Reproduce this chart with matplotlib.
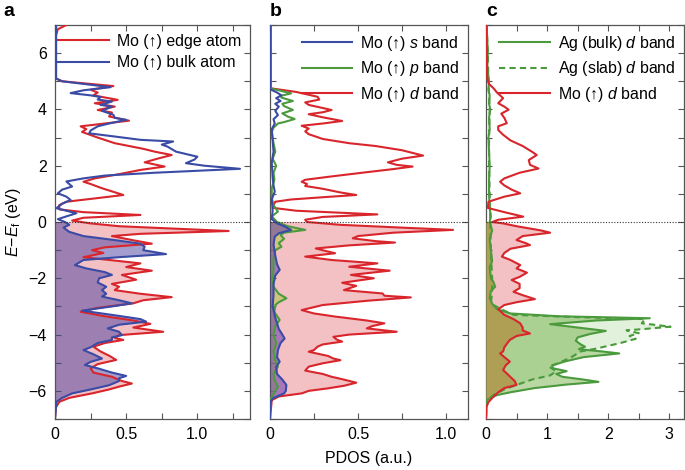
import matplotlib

matplotlib.use("Agg")
import matplotlib.pyplot as plt
import numpy as np
from matplotlib.lines import Line2D
from matplotlib.patches import Rectangle
from matplotlib.ticker import MultipleLocator

plt.rcParams["font.family"] = ["Liberation Sans", "DejaVu Sans"]
plt.rcParams["mathtext.fontset"] = "custom"
plt.rcParams["mathtext.rm"] = "Liberation Sans"
plt.rcParams["mathtext.it"] = "Liberation Sans:italic"
plt.rcParams["mathtext.bf"] = "Liberation Sans:bold"

# ---- data: (E - Ef in eV, PDOS in a.u.) ----
# panel a
mo_edge = [(7.0, 0.08), (6.85, 0.02), (6.6, 0.005), (5.1, 0.005), (5.0, 0.05), (4.83, 0.41),
           (4.7, 0.25), (4.6, 0.3), (4.5, 0.27), (4.34, 0.44), (4.22, 0.28), (4.1, 0.42),
           (3.98, 0.3), (3.89, 0.4), (3.75, 0.38), (3.6, 0.52), (3.5, 0.35), (3.4, 0.18),
           (3.3, 0.22), (3.2, 0.19), (3.0, 0.3), (2.8, 0.42), (2.6, 0.62), (2.5, 0.7),
           (2.38, 0.82), (2.25, 0.72), (2.12, 0.63), (1.97, 0.77), (1.85, 0.6), (1.7, 0.45),
           (1.55, 0.28), (1.43, 0.2), (1.35, 0.25), (1.2, 0.33), (0.96, 0.48), (0.85, 0.3),
           (0.72, 0.08), (0.6, 0.03), (0.45, 0.03), (0.35, 0.2), (0.25, 0.6), (0.15, 0.2),
           (0.05, 0.12), (-0.05, 0.25), (-0.15, 0.45), (-0.32, 1.22), (-0.42, 0.6), (-0.5, 0.4),
           (-0.65, 0.55), (-0.77, 0.68), (-0.9, 0.35), (-1.0, 0.26), (-1.1, 0.34), (-1.25, 0.2),
           (-1.47, 0.6), (-1.6, 0.5), (-1.73, 0.68), (-1.88, 0.47), (-2.05, 0.57), (-2.2, 0.4),
           (-2.3, 0.45), (-2.42, 0.42), (-2.55, 0.6), (-2.67, 0.82), (-2.78, 0.62), (-2.89, 0.55),
           (-3.05, 0.3), (-3.19, 0.18), (-3.35, 0.35), (-3.5, 0.55), (-3.62, 0.67), (-3.75, 0.55),
           (-3.9, 0.76), (-4.02, 0.45), (-4.12, 0.42), (-4.19, 0.48), (-4.3, 0.35), (-4.43, 0.27),
           (-4.6, 0.32), (-4.75, 0.38), (-4.9, 0.43), (-5.05, 0.3), (-5.2, 0.25), (-5.35, 0.27),
           (-5.5, 0.4), (-5.65, 0.47), (-5.74, 0.54), (-5.85, 0.45), (-5.95, 0.38), (-6.09, 0.26),
           (-6.25, 0.1), (-6.39, 0.03), (-6.6, 0.005), (-7.0, 0.0)]
mo_bulk = [(7.0, 0.008), (5.1, 0.008), (5.0, 0.05), (4.79, 0.39), (4.68, 0.2), (4.58, 0.11),
           (4.5, 0.25), (4.44, 0.32), (4.35, 0.3), (4.28, 0.4), (4.16, 0.32), (4.1, 0.4),
           (3.95, 0.33), (3.81, 0.41), (3.7, 0.42), (3.63, 0.5), (3.5, 0.38), (3.4, 0.3),
           (3.25, 0.25), (3.15, 0.24), (3.05, 0.4), (2.92, 0.6), (2.86, 0.83), (2.75, 0.75),
           (2.68, 0.79), (2.5, 0.85), (2.32, 1.0), (2.22, 0.98), (2.09, 0.92), (2.0, 1.05),
           (1.89, 1.3), (1.82, 1.0), (1.75, 0.7), (1.65, 0.35), (1.55, 0.2), (1.44, 0.08),
           (1.35, 0.1), (1.26, 0.12), (1.15, 0.05), (1.02, 0.02), (0.9, 0.08), (0.78, 0.11),
           (0.65, 0.05), (0.49, 0.01), (0.4, 0.08), (0.31, 0.15), (0.2, 0.08), (0.1, 0.02),
           (0.0, 0.07), (-0.1, 0.1), (-0.2, 0.06), (-0.35, 0.1), (-0.5, 0.2), (-0.65, 0.43),
           (-0.77, 0.6), (-0.88, 0.63), (-1.0, 0.62), (-1.14, 0.78), (-1.25, 0.45), (-1.35, 0.2),
           (-1.53, 0.14), (-1.65, 0.22), (-1.78, 0.35), (-1.88, 0.4), (-2.0, 0.31), (-2.15, 0.3),
           (-2.3, 0.36), (-2.42, 0.33), (-2.55, 0.36), (-2.65, 0.33), (-2.78, 0.45), (-2.89, 0.54),
           (-3.0, 0.4), (-3.15, 0.19), (-3.3, 0.4), (-3.45, 0.6), (-3.54, 0.64), (-3.65, 0.45),
           (-3.78, 0.37), (-3.9, 0.45), (-4.02, 0.47), (-4.1, 0.4), (-4.19, 0.4), (-4.3, 0.3),
           (-4.45, 0.25), (-4.55, 0.2), (-4.7, 0.27), (-4.85, 0.33), (-4.97, 0.25), (-5.08, 0.21),
           (-5.2, 0.3), (-5.35, 0.4), (-5.47, 0.5), (-5.55, 0.45), (-5.65, 0.45), (-5.8, 0.38),
           (-5.95, 0.25), (-6.09, 0.12), (-6.25, 0.05), (-6.39, 0.01), (-7.0, 0.0)]

# panel b
mo_d = [(7.0, 0.005), (4.75, 0.005), (4.62, 0.15), (4.45, 0.27), (4.35, 0.28), (4.25, 0.2),
        (4.16, 0.22), (4.05, 0.3), (3.98, 0.35), (3.9, 0.3), (3.83, 0.22), (3.72, 0.3),
        (3.59, 0.41), (3.5, 0.3), (3.42, 0.18), (3.32, 0.22), (3.22, 0.2), (3.12, 0.22),
        (2.95, 0.3), (2.8, 0.45), (2.7, 0.6), (2.55, 0.75), (2.36, 0.87), (2.25, 0.75),
        (2.12, 0.67), (2.03, 0.72), (1.97, 0.81), (1.88, 0.7), (1.77, 0.55), (1.62, 0.35),
        (1.5, 0.2), (1.43, 0.18), (1.35, 0.21), (1.28, 0.2), (1.18, 0.3), (1.05, 0.4),
        (0.96, 0.49), (0.88, 0.3), (0.8, 0.12), (0.72, 0.03), (0.6, 0.02), (0.5, 0.02),
        (0.4, 0.15), (0.27, 0.61), (0.18, 0.3), (0.08, 0.2), (0.0, 0.21), (-0.1, 0.4),
        (-0.2, 0.75), (-0.28, 1.04), (-0.38, 0.7), (-0.5, 0.5), (-0.58, 0.47), (-0.68, 0.6),
        (-0.73, 0.71), (-0.83, 0.45), (-0.94, 0.26), (-1.05, 0.33), (-1.11, 0.37), (-1.23, 0.2),
        (-1.35, 0.35), (-1.47, 0.61), (-1.59, 0.45), (-1.73, 0.68), (-1.88, 0.46), (-2.0, 0.59),
        (-2.16, 0.41), (-2.27, 0.49), (-2.42, 0.42), (-2.54, 0.64), (-2.62, 0.65), (-2.68, 0.8),
        (-2.8, 0.55), (-2.95, 0.3), (-3.13, 0.18), (-3.25, 0.25), (-3.36, 0.37), (-3.5, 0.55),
        (-3.6, 0.65), (-3.7, 0.58), (-3.78, 0.55), (-3.9, 0.72), (-4.0, 0.45), (-4.08, 0.36),
        (-4.18, 0.38), (-4.25, 0.41), (-4.35, 0.3), (-4.43, 0.27), (-4.55, 0.25), (-4.61, 0.22),
        (-4.76, 0.33), (-4.85, 0.36), (-4.91, 0.4), (-5.02, 0.3), (-5.14, 0.22), (-5.28, 0.2),
        (-5.4, 0.3), (-5.5, 0.35), (-5.6, 0.42), (-5.71, 0.49), (-5.82, 0.42), (-5.91, 0.33),
        (-6.0, 0.22), (-6.09, 0.18), (-6.2, 0.05), (-6.33, 0.01), (-7.0, 0.0)]
mo_p = [(7.0, 0.0), (4.75, 0.0), (4.68, 0.05), (4.57, 0.12), (4.48, 0.06), (4.42, 0.065),
        (4.3, 0.13), (4.2, 0.07), (4.12, 0.08), (3.98, 0.13), (3.86, 0.07), (3.75, 0.1),
        (3.66, 0.14), (3.55, 0.08), (3.5, 0.045), (3.35, 0.02), (3.2, 0.01), (2.8, 0.02),
        (2.5, 0.03), (2.25, 0.015), (2.0, 0.035), (1.75, 0.02), (1.5, 0.025), (1.2, 0.01),
        (0.85, 0.01), (0.6, 0.02), (0.37, 0.045), (0.2, 0.01), (0.0, 0.04), (-0.15, 0.1),
        (-0.28, 0.2), (-0.38, 0.08), (-0.46, 0.06), (-0.6, 0.08), (-0.75, 0.05), (-0.88, 0.065),
        (-1.0, 0.03), (-1.3, 0.02), (-1.7, 0.02), (-2.0, 0.015), (-2.3, 0.02), (-2.55, 0.05),
        (-2.71, 0.093), (-2.85, 0.05), (-2.95, 0.03), (-3.2, 0.025), (-3.48, 0.055), (-3.7, 0.03),
        (-4.0, 0.02), (-4.31, 0.036), (-4.6, 0.02), (-4.9, 0.03), (-5.14, 0.045), (-5.4, 0.02),
        (-5.6, 0.025), (-5.85, 0.045), (-6.0, 0.03), (-6.21, 0.01), (-6.4, 0.0), (-7.0, 0.0)]
mo_s = [(7.0, 0.0), (4.72, 0.0), (4.6, 0.04), (4.5, 0.065), (4.4, 0.035), (4.3, 0.06),
        (4.2, 0.03), (4.1, 0.05), (3.95, 0.03), (3.8, 0.045), (3.65, 0.02), (3.5, 0.027),
        (3.3, 0.01), (2.9, 0.015), (2.5, 0.02), (2.1, 0.01), (1.6, 0.015), (1.3, 0.02),
        (1.08, 0.027), (0.8, 0.01), (0.4, 0.015), (0.1, 0.01), (-0.05, 0.04), (-0.15, 0.08),
        (-0.28, 0.12), (-0.4, 0.05), (-0.52, 0.027), (-0.8, 0.02), (-1.2, 0.03), (-1.5, 0.04),
        (-1.7, 0.055), (-1.9, 0.03), (-2.2, 0.02), (-2.6, 0.02), (-3.0, 0.015), (-3.4, 0.03),
        (-3.8, 0.05), (-4.0, 0.07), (-4.14, 0.083), (-4.3, 0.06), (-4.55, 0.045), (-4.8, 0.04),
        (-4.96, 0.055), (-5.15, 0.035), (-5.4, 0.04), (-5.6, 0.07), (-5.79, 0.093), (-6.0, 0.09),
        (-6.09, 0.08), (-6.25, 0.02), (-6.4, 0.0), (-7.0, 0.0)]

# panel c
mo_d_c = [(7.0, 0.01), (5.1, 0.02), (4.9, 0.05), (4.76, 0.12), (4.6, 0.18), (4.4, 0.28),
          (4.22, 0.2), (4.1, 0.3), (3.99, 0.37), (3.85, 0.25), (3.7, 0.3), (3.51, 0.34),
          (3.4, 0.2), (3.27, 0.2), (3.1, 0.28), (2.9, 0.4), (2.7, 0.6), (2.5, 0.75),
          (2.38, 0.83), (2.2, 0.7), (2.03, 0.72), (1.9, 0.86), (1.75, 0.55), (1.55, 0.3),
          (1.43, 0.23), (1.3, 0.3), (1.15, 0.42), (1.02, 0.56), (0.9, 0.3), (0.72, 0.04),
          (0.5, 0.03), (0.35, 0.3), (0.19, 0.61), (0.08, 0.2), (0.0, 0.1), (-0.05, 0.28),
          (-0.15, 0.5), (-0.3, 0.9), (-0.38, 1.05), (-0.5, 0.6), (-0.64, 0.5), (-0.75, 0.65),
          (-0.82, 0.72), (-0.95, 0.4), (-1.1, 0.3), (-1.23, 0.26), (-1.35, 0.4), (-1.53, 0.56),
          (-1.65, 0.5), (-1.8, 0.67), (-1.95, 0.55), (-2.06, 0.42), (-2.2, 0.55), (-2.35, 0.55),
          (-2.48, 0.45), (-2.6, 0.6), (-2.74, 0.8), (-2.85, 0.5), (-2.95, 0.3), (-3.1, 0.2),
          (-3.3, 0.3), (-3.45, 0.45), (-3.6, 0.56), (-3.75, 0.6), (-3.85, 0.6), (-3.96, 0.72),
          (-4.05, 0.5), (-4.19, 0.39), (-4.3, 0.35), (-4.45, 0.3), (-4.6, 0.28), (-4.67, 0.23),
          (-4.8, 0.3), (-4.96, 0.39), (-5.1, 0.32), (-5.26, 0.28), (-5.4, 0.35), (-5.55, 0.42),
          (-5.65, 0.47), (-5.79, 0.5), (-5.9, 0.3), (-6.05, 0.2), (-6.21, 0.12), (-6.4, 0.04),
          (-6.56, 0.01), (-7.0, 0.0)]
ag_bulk = [(7.0, 0.01), (6.5, 0.02), (6.0, 0.03), (5.5, 0.02), (5.0, 0.05), (4.7, 0.04),
           (4.5, 0.06), (4.2, 0.05), (4.0, 0.07), (3.7, 0.05), (3.3, 0.06), (3.0, 0.04),
           (2.5, 0.05), (2.0, 0.06), (1.5, 0.05), (1.0, 0.05), (0.5, 0.06), (0.2, 0.08),
           (0.0, 0.06), (-0.3, 0.1), (-0.6, 0.06), (-1.0, 0.08), (-1.4, 0.1), (-1.6, 0.06),
           (-2.0, 0.08), (-2.12, 0.12), (-2.3, 0.15), (-2.45, 0.08), (-2.7, 0.06), (-2.9, 0.1),
           (-3.1, 0.18), (-3.25, 0.4), (-3.35, 1.2), (-3.42, 2.68), (-3.5, 1.8), (-3.63, 1.05),
           (-3.75, 1.5), (-3.87, 1.96), (-3.98, 1.7), (-4.1, 1.5), (-4.22, 1.47), (-4.35, 1.55),
           (-4.43, 1.62), (-4.52, 1.52), (-4.6, 1.9), (-4.67, 2.18), (-4.8, 1.6), (-4.95, 1.3),
           (-5.1, 1.08), (-5.2, 1.1), (-5.3, 1.32), (-5.4, 1.15), (-5.5, 1.25), (-5.6, 1.6),
           (-5.68, 1.84), (-5.78, 1.3), (-5.9, 0.8), (-6.05, 0.4), (-6.15, 0.18), (-6.3, 0.03),
           (-6.5, 0.0), (-7.0, 0.0)]
ag_slab = [(7.0, 0.01), (6.0, 0.03), (5.0, 0.04), (4.0, 0.06), (3.0, 0.05), (2.0, 0.05),
           (1.0, 0.06), (0.0, 0.07), (-1.0, 0.08), (-2.0, 0.1), (-2.5, 0.1), (-2.9, 0.08),
           (-3.1, 0.25), (-3.3, 0.45), (-3.38, 1.5), (-3.45, 2.6), (-3.6, 2.55), (-3.72, 3.02),
           (-3.8, 2.6), (-3.85, 2.3), (-3.95, 2.5), (-4.05, 2.35), (-4.15, 2.45), (-4.3, 2.2),
           (-4.4, 2.0), (-4.5, 1.8), (-4.6, 1.55), (-4.8, 1.4), (-5.0, 1.2), (-5.14, 1.03),
           (-5.3, 1.15), (-5.45, 1.05), (-5.6, 0.75), (-5.79, 0.5), (-5.95, 0.3), (-6.15, 0.12),
           (-6.35, 0.01), (-7.0, 0.0)]

RED = "#d8262c"
BLUE = "#3a4ba6"
GREEN = "#4b9a3d"
FS = 11.5
LEG_FS = 11.4
LW = 1.5

fig = plt.figure(figsize=(6.85, 4.7), dpi=100)
W, H = 685, 470
boxes = [(55, 250), (270, 468), (486, 684)]
top, bottom = 25, 419
axes = [fig.add_axes([l / W, (H - bottom) / H, (r - l) / W, (bottom - top) / H]) for l, r in boxes]
xmaxes = [1.37, 1.125, 3.24]


def shade(ax, pts, color, alpha=1.0, z=1):
    e, v = np.array(pts).T
    f = ax.fill_betweenx(e, 0, v, color=color, alpha=alpha, lw=0, zorder=z)
    # only the occupied states (below Ef) are shaded
    f.set_clip_path(Rectangle((0, -7), 10, 7, transform=ax.transData))
    return f


def line(ax, pts, color, ls="-", z=6):
    e, v = np.array(pts).T
    ax.plot(v, e, color=color, lw=LW, ls=ls, zorder=z,
            solid_joinstyle="round", dash_joinstyle="round")


ax_a, ax_b, ax_c = axes
shade(ax_a, mo_edge, "#f3c0c4", 1.0, z=1)
shade(ax_a, mo_bulk, "#4a3fa0", 0.5, z=2)
line(ax_a, mo_edge, RED, z=6)
line(ax_a, mo_bulk, BLUE, z=7)

shade(ax_b, mo_d, "#f3c0c4", 1.0, z=1)
shade(ax_b, mo_p, "#b8c850", 0.6, z=2)
shade(ax_b, mo_s, "#5a30b0", 0.5, z=3)
line(ax_b, mo_d, RED, z=6)
line(ax_b, mo_p, GREEN, z=7)
line(ax_b, mo_s, BLUE, z=8)

# panel c: Mo d shading, green Ag shading, and an olive tone where Mo d overlaps Ag bulk
shade(ax_c, mo_d_c, "#f3c0c4", 1.0, z=1)
shade(ax_c, ag_slab, "#8cc870", 0.25, z=2)
bulk_fill = shade(ax_c, ag_bulk, "#74b24a", 0.5, z=3)
e_c, v_c = np.array([p for p in mo_d_c if p[0] <= 0]).T
olive = ax_c.fill_betweenx(e_c, 0, v_c, color="#ae9f55", lw=0, zorder=4)
olive.set_clip_path(bulk_fill.get_paths()[0], ax_c.transData)
line(ax_c, ag_slab, GREEN, ls=(0, (3, 2)), z=6)
line(ax_c, ag_bulk, GREEN, z=7)
line(ax_c, mo_d_c, RED, z=8)

legends = [
    (ax_a, [(RED, "-"), (BLUE, "-")], ["Mo (↑) edge atom", "Mo (↑) bulk atom"]),
    (ax_b, [(BLUE, "-"), (GREEN, "-"), (RED, "-")],
     [r"Mo (↑) $s$ band", r"Mo (↑) $p$ band", r"Mo (↑) $d$ band"]),
    (ax_c, [(GREEN, "-"), (GREEN, (0, (3, 2))), (RED, "-")],
     [r"Ag (bulk) $d$ band", r"Ag (slab) $d$ band", r"Mo (↑) $d$ band"]),
]
for ax, styles, labels in legends:
    handles = [Line2D([], [], color=c, lw=LW, ls=s) for c, s in styles]
    ax.legend(handles, labels, loc="upper right", frameon=False, fontsize=LEG_FS,
              handlelength=3.2, handletextpad=0.5, labelspacing=0.42,
              borderaxespad=0.25, borderpad=0.3)

for i, (ax, xm) in enumerate(zip(axes, xmaxes)):
    ax.set_xlim(0, xm)
    ax.set_ylim(-7, 7)
    ax.axhline(0, color="#333333", ls=(0, (1, 1.5)), lw=0.8, zorder=20)
    ax.yaxis.set_major_locator(MultipleLocator(2))
    ax.yaxis.set_minor_locator(MultipleLocator(1))
    if i < 2:
        ax.xaxis.set_minor_locator(MultipleLocator(0.25))
        ax.set_xticks([0, 0.5, 1.0])
        ax.set_xticklabels(["0", "0.5", "1.0"])
    else:
        ax.xaxis.set_minor_locator(MultipleLocator(0.5))
        ax.set_xticks([0, 1, 2, 3])
    ax.tick_params(which="both", direction="in", top=True, right=True, length=4,
                   width=0.8, color="#555555", labelsize=FS, pad=6)
    for s in ax.spines.values():
        s.set_color("#555555")
        s.set_linewidth(0.9)
    if i > 0:
        ax.set_yticklabels([])

ax_a.set_ylabel(r"$E$−$E_\mathrm{f}$ (eV)", fontsize=FS, labelpad=4)
ax_b.set_xlabel("PDOS (a.u.)", fontsize=FS, labelpad=6)

for letter, x in (("a", 3), ("b", 270), ("c", 486)):
    fig.text(x / W, 1 - 12 / H, letter, fontsize=14, fontweight="bold", va="center", ha="left")

fig.savefig("out.png", dpi=100)
